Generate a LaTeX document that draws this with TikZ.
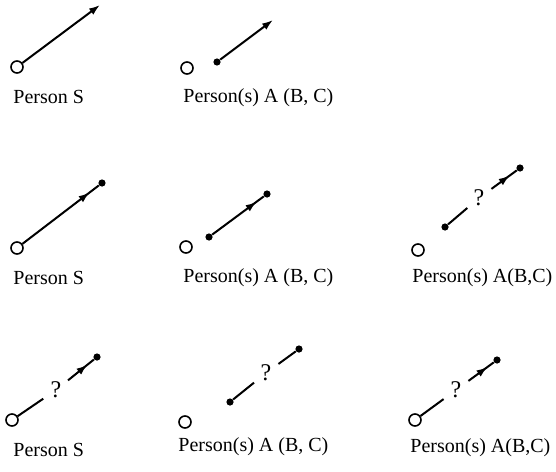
\documentclass[tikz,border=0pt]{standalone}
\usepackage{fontspec}
\setmainfont{Liberation Serif}
\usetikzlibrary{arrows.meta, decorations.markings}
\tikzset{
  person/.style={circle, draw, line width=0.8pt, inner sep=0pt, minimum size=6pt},
  dotnode/.style={circle, fill, inner sep=0pt, minimum size=3.6pt},
  qmark/.style={circle, inner sep=0pt, minimum size=15pt, font=\large},
  lbl/.style={anchor=west, inner sep=0pt},
  link/.style={line width=1pt},
  tipend/.style={-{Latex[length=5.5pt,width=3.8pt]}},
  midtip/.style={postaction={decorate}, decoration={markings,
      mark=at position #1 with {\arrow{Latex[length=5.5pt,width=3.8pt]}}}},
}
\begin{document}
\begin{tikzpicture}[x=0.5pt, y=-0.5pt]
  \useasboundingbox (0,0) rectangle (556,471);

  % --- row 1: plain arrows ---
  \node[person] (s1) at (17,67) {};
  \coordinate (t1) at (100,5);
  \draw[link, tipend] (s1) -- (t1);
  \node[lbl] (l1) at (13,97) {Person S};

  \node[person] (s2) at (187,68) {};
  \node[dotnode] (a2) at (217,62) {};
  \coordinate (t2) at (273,20);
  \draw[link, tipend] (a2) -- (t2);
  \node[lbl] (l2) at (183,98) {Person(s) A (B, C)};

  % --- row 2: arrows ending in a dot ---
  \node[person] (s3) at (17,248) {};
  \node[dotnode] (e3) at (102,183) {};
  \draw[link, midtip=0.88] (s3) -- (e3);
  \node[lbl] (l3) at (13,278) {Person S};

  \node[person] (s4) at (186,247) {};
  \node[dotnode] (a4) at (209,237) {};
  \node[dotnode] (e4) at (267,194) {};
  \draw[link, midtip=0.86] (a4) -- (e4);
  \node[lbl] (l4) at (183,278) {Person(s) A (B, C)};

  \node[person] (s5) at (418,250) {};
  \node[dotnode] (a5) at (445,227) {};
  \node[qmark] (q5) at (479,198) {?};
  \node[dotnode] (e5) at (520,168) {};
  \draw[link] (a5) -- (q5);
  \draw[link, midtip=0.72] (q5) -- (e5);
  \node[lbl] (l5) at (412,278) {Person(s) A(B,C)};

  % --- row 3: broken arrows with ? ---
  \node[person] (s6) at (12,420) {};
  \node[qmark] (q6) at (56,390) {?};
  \node[dotnode] (e6) at (97,357) {};
  \draw[link] (s6) -- (q6);
  \draw[link, midtip=0.75] (q6) -- (e6);
  \node[lbl] (l6) at (13,450) {Person S};

  \node[person] (s7) at (185,422) {};
  \node[dotnode] (a7) at (230,402) {};
  \node[qmark] (q7) at (266,373) {?};
  \node[dotnode] (e7) at (299,349) {};
  \draw[link] (a7) -- (q7);
  \draw[link] (q7) -- (e7);
  \node[lbl] (l7) at (178,447) {Person(s) A (B, C)};

  \node[person] (s8) at (415,420) {};
  \node[qmark] (q8) at (456,390) {?};
  \node[dotnode] (e8) at (497,360) {};
  \draw[link] (s8) -- (q8);
  \draw[link, midtip=0.75] (q8) -- (e8);
  \node[lbl] (l8) at (410,448) {Person(s) A(B,C)};
\end{tikzpicture}
\end{document}
